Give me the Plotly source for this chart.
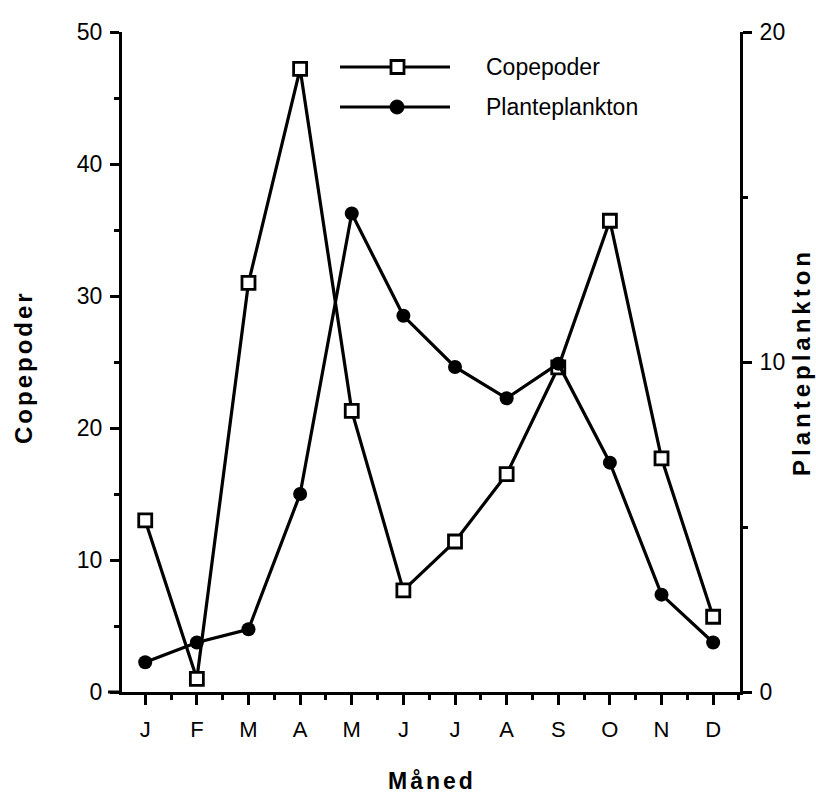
import plotly.graph_objects as go

months = ["J", "F", "M", "A", "M", "J", "J", "A", "S", "O", "N", "D"]
month_pos = [0, 1, 2, 3, 4, 5, 6, 7, 8, 9, 10, 11]
copepoder = [13.0, 1.0, 31.0, 47.2, 21.3, 7.7, 11.4, 16.5, 24.6, 35.7, 17.7, 5.7]
planteplankton = [0.9, 1.5, 1.9, 6.0, 14.5, 11.4, 9.85, 8.9, 9.95, 6.95, 2.95, 1.5]
left_ticks = [0, 10, 20, 30, 40, 50]
right_ticks = [0, 10, 20]

W, H = 816, 797
L, R, T, B = 122, 740, 32, 692

def px(x):
    return (x - L) / (R - L)

def py(y):
    return (B - y) / (B - T)

FONT = "Liberation Sans, Arial, Helvetica, sans-serif"

def spaced(text, sp):
    return '<span style="letter-spacing:%spx">%s</span>' % (sp, text)

fig = go.Figure()
fig.add_trace(go.Scatter(
    x=month_pos, y=copepoder, mode="lines+markers", name="Copepoder",
    line=dict(color="black", width=3.2),
    marker=dict(symbol="square", size=13, color="white", line=dict(color="black", width=2.8)),
    showlegend=False,
))
fig.add_trace(go.Scatter(
    x=month_pos, y=planteplankton, mode="lines+markers", name="Planteplankton",
    yaxis="y2",
    line=dict(color="black", width=3.2),
    marker=dict(symbol="circle", size=14, color="black"),
    showlegend=False,
))

fig.update_layout(
    width=W, height=H,
    margin=dict(l=L, r=W - R, t=T, b=H - B),
    plot_bgcolor="white", paper_bgcolor="white",
    font=dict(family=FONT, color="black", size=22),
    xaxis=dict(
        range=[-0.45, 11.52], tickvals=month_pos, ticktext=months,
        showgrid=False, zeroline=False, showline=True, linecolor="black", linewidth=3,
        ticks="outside", ticklen=10, tickwidth=2.5, tickcolor="black",
        ticklabelstandoff=6,
        minor=dict(tickvals=[i + 0.5 for i in range(-1, 12)], ticks="outside", ticklen=5, tickwidth=2.5, tickcolor="black"),
        tickfont=dict(size=22),
    ),
    yaxis=dict(
        range=[0, 50], tickvals=left_ticks, showgrid=False, zeroline=False,
        showline=True, linecolor="black", linewidth=3,
        ticks="outside", ticklen=9, tickwidth=2.5, tickcolor="black",
        minor=dict(tickvals=[5, 15, 25, 35, 45], ticks="outside", ticklen=5, tickwidth=2.5, tickcolor="black"),
        tickfont=dict(size=23), ticklabelstandoff=3,
    ),
    yaxis2=dict(
        range=[0, 20], tickvals=right_ticks, overlaying="y", side="right",
        showgrid=False, zeroline=False, showline=True, linecolor="black", linewidth=3,
        ticks="outside", ticklen=9, tickwidth=2.5, tickcolor="black",
        minor=dict(tickvals=[5, 15], ticks="outside", ticklen=5, tickwidth=2.5, tickcolor="black"),
        tickfont=dict(size=23), ticklabelstandoff=3,
    ),
)

# extend x-axis line slightly to the left, as in the original
fig.add_shape(type="line", xref="paper", yref="paper", x0=px(108), x1=px(122), y0=0, y1=0,
              line=dict(color="black", width=3))

# axis titles
fig.add_annotation(text="<b>" + spaced("Copepoder", 3) + "</b>", xref="paper", yref="paper",
                   x=px(23), y=py(367), xanchor="center", yanchor="middle",
                   textangle=-90, showarrow=False, font=dict(size=24, family=FONT))
fig.add_annotation(text="<b>" + spaced("Planteplankton", 4) + "</b>", xref="paper", yref="paper",
                   x=px(801), y=py(362), xanchor="center", yanchor="middle",
                   textangle=-90, showarrow=False, font=dict(size=24, family=FONT))
fig.add_annotation(text="<b>" + spaced("Måned", 3) + "</b>", xref="paper", yref="paper",
                   x=px(432), y=py(781), xanchor="center", yanchor="middle",
                   showarrow=False, font=dict(size=23, family=FONT))

# legend drawn manually
legend_items = [("Copepoder", 67, "square"), ("Planteplankton", 107, "circle")]
for label, ly, sym in legend_items:
    fig.add_shape(type="line", xref="paper", yref="paper", x0=px(340), x1=px(450), y0=py(ly), y1=py(ly),
                  line=dict(color="black", width=3))
    if sym == "square":
        fig.add_shape(type="rect", xref="paper", yref="paper", x0=px(391), x1=px(404),
                      y0=py(ly + 6.5), y1=py(ly - 6.5), fillcolor="white", line=dict(color="black", width=2.8))
    else:
        fig.add_shape(type="circle", xref="paper", yref="paper", x0=px(390), x1=px(404),
                      y0=py(ly + 7), y1=py(ly - 7), fillcolor="black", line=dict(color="black", width=1))
    fig.add_annotation(text=label, xref="paper", yref="paper", x=px(484), y=py(ly),
                       xanchor="left", yanchor="middle",
                       showarrow=False, font=dict(size=23, family=FONT))

fig.write_html("out.html", config={"displayModeBar": False},
               post_script="document.body.style.margin='0';")
